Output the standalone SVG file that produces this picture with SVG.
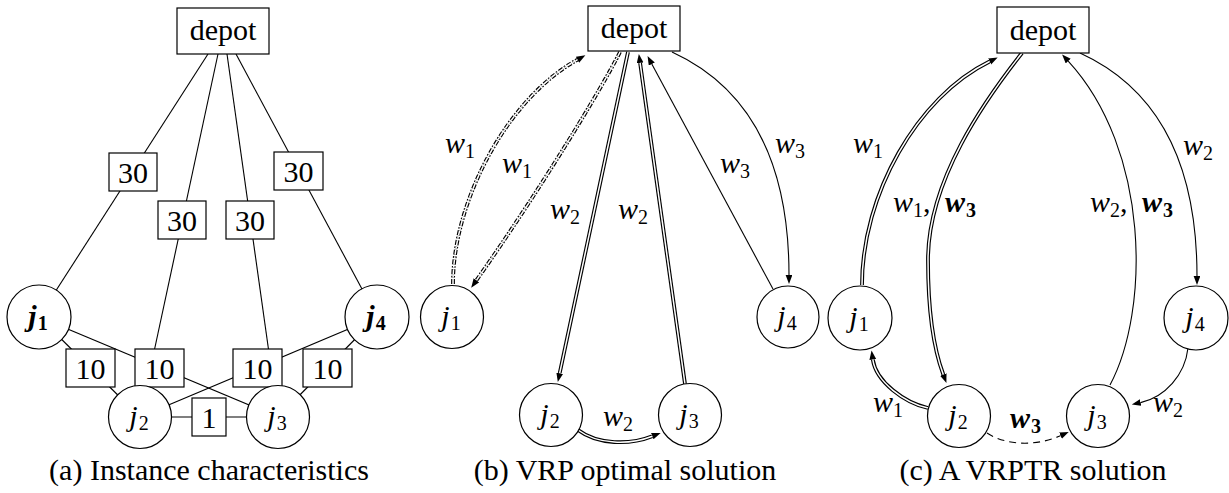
<svg xmlns="http://www.w3.org/2000/svg" width="1229" height="493" viewBox="0 0 1229 493">
<defs>
<marker id="arr" markerUnits="userSpaceOnUse" markerWidth="10" markerHeight="8" refX="0" refY="3.4" orient="auto">
<path d="M0,0 L9,3.4 L0,6.8 Z" fill="#000"/>
</marker>
</defs>
<style>
text{font-family:"Liberation Serif","Times New Roman",serif;font-size:30px;fill:#000}
.m{font-style:italic}
.b{font-weight:bold}
.c{text-anchor:middle}
.sub{font-size:20px;font-style:normal}
.ln{fill:none;stroke:#000;stroke-width:1.1}
.box{fill:#fff;stroke:#000;stroke-width:1.2}
.node{fill:#fff;stroke:#000;stroke-width:1.2}
.dbk{fill:none;stroke:#000;stroke-width:3.8}
.dwh{fill:none;stroke:#fff;stroke-width:1.5}
.dd{stroke-dasharray:5,1.6,1.6,1.6}
.dash{stroke-dasharray:7,5}
</style>
<rect width="1229" height="493" fill="#fff"/>
<g font-family="Liberation Serif, serif">

<!-- ===== Panel (a) ===== -->
<g id="edges-a">
<line class="ln" x1="208" y1="54" x2="39" y2="317"/>
<line class="ln" x1="218" y1="54" x2="140" y2="417"/>
<line class="ln" x1="227" y1="54" x2="278" y2="417"/>
<line class="ln" x1="236" y1="54" x2="377" y2="317"/>
<line class="ln" x1="39" y1="317" x2="140" y2="417"/>
<line class="ln" x1="39" y1="317" x2="278" y2="417"/>
<line class="ln" x1="377" y1="317" x2="140" y2="417"/>
<line class="ln" x1="377" y1="317" x2="278" y2="417"/>
<line class="ln" x1="140" y1="417" x2="278" y2="417"/>
<g id="weights-a">
<rect class="box" x="109" y="153" width="48" height="38"/><text class="c" x="133" y="182.5">30</text>
<rect class="box" x="158" y="201" width="48" height="38"/><text class="c" x="182" y="230.5">30</text>
<rect class="box" x="226" y="201" width="48" height="38"/><text class="c" x="250" y="230.5">30</text>
<rect class="box" x="274" y="152" width="49" height="38"/><text class="c" x="298.5" y="181.5">30</text>
<rect class="box" x="66" y="349" width="49" height="38"/><text class="c" x="90.5" y="378.5">10</text>
<rect class="box" x="135" y="349" width="49" height="38"/><text class="c" x="159.5" y="378.5">10</text>
<rect class="box" x="233" y="349" width="49" height="38"/><text class="c" x="257.5" y="378.5">10</text>
<rect class="box" x="303" y="349" width="49" height="38"/><text class="c" x="327.5" y="378.5">10</text>
<rect class="box" x="192" y="398" width="34" height="38"/><text class="c" x="209" y="427.5">1</text>
</g>
</g>
<g id="a-depot"><rect class="box" x="177" y="8" width="92" height="46"/><text class="c" x="223" y="40">depot</text></g>
<g id="a-j1"><circle class="node" cx="39" cy="317" r="32"/><text class="c m b" x="38" y="326">j<tspan class="sub" dx="1" dy="4">1</tspan></text></g>
<g id="a-j2"><circle class="node" cx="140" cy="417" r="31.5"/><text class="c m" x="139" y="426">j<tspan class="sub" dx="1" dy="4">2</tspan></text></g>
<g id="a-j3"><circle class="node" cx="278" cy="417" r="31.5"/><text class="c m" x="277" y="426">j<tspan class="sub" dx="1" dy="4">3</tspan></text></g>
<g id="a-j4"><circle class="node" cx="377" cy="317" r="32"/><text class="c m b" x="376" y="326">j<tspan class="sub" dx="1" dy="4">4</tspan></text></g>
<text class="c" x="209" y="480">(a) Instance characteristics</text>

<!-- ===== Panel (b) ===== -->
<g id="edges-b">
<path class="dbk dd" d="M453,284 C453,200 508,98 577.5,59.7" marker-end="url(#arr)"/>
<path class="dwh dd" d="M453,284 C453,200 508,98 577.5,59.7"/>
<path class="dbk dd" d="M620,52 C602,88 540,190 476.4,280.3" marker-end="url(#arr)"/>
<path class="dwh dd" d="M620,52 C602,88 540,190 476.4,280.3"/>
<path class="dbk" d="M628,52 L559.7,373.2" marker-end="url(#arr)"/>
<path class="dwh" d="M628,52 L559.7,373.2"/>
<path class="dbk" d="M685,384 L640.1,62.9" marker-end="url(#arr)"/>
<path class="dwh" d="M685,384 L640.1,62.9"/>
<path class="ln" d="M773,289 L651.8,64" marker-end="url(#arr)"/>
<path class="ln" d="M672,52 C755,90 789,170 789,275" marker-end="url(#arr)"/>
<path class="dbk" d="M578,430 C598,445 630,445 652.3,436.2" marker-end="url(#arr)"/>
<path class="dwh" d="M578,430 C598,445 630,445 652.3,436.2"/>
<g id="labels-b">
<text class="m" x="445" y="153">w<tspan class="sub" dy="5">1</tspan></text>
<text class="m" x="502" y="173">w<tspan class="sub" dy="5">1</tspan></text>
<text class="m" x="550" y="219">w<tspan class="sub" dy="5">2</tspan></text>
<text class="m" x="618" y="219">w<tspan class="sub" dy="5">2</tspan></text>
<text class="m" x="720" y="173">w<tspan class="sub" dy="5">3</tspan></text>
<text class="m" x="775" y="153">w<tspan class="sub" dy="5">3</tspan></text>
<text class="m" x="603" y="426">w<tspan class="sub" dy="5">2</tspan></text>
</g>
</g>
<g id="b-depot"><rect class="box" x="588" y="6" width="92" height="45"/><text class="c" x="634" y="38">depot</text></g>
<g id="b-j1"><circle class="node" cx="452" cy="317" r="31.5"/><text class="c m" x="451" y="326">j<tspan class="sub" dx="1" dy="4">1</tspan></text></g>
<g id="b-j2"><circle class="node" cx="551" cy="415" r="31.5"/><text class="c m" x="550" y="424">j<tspan class="sub" dx="1" dy="4">2</tspan></text></g>
<g id="b-j3"><circle class="node" cx="690" cy="415" r="31.5"/><text class="c m" x="689" y="424">j<tspan class="sub" dx="1" dy="4">3</tspan></text></g>
<g id="b-j4"><circle class="node" cx="788" cy="317" r="31"/><text class="c m" x="787" y="326">j<tspan class="sub" dx="1" dy="4">4</tspan></text></g>
<text class="c" x="625" y="480">(b) VRP optimal solution</text>

<!-- ===== Panel (c) ===== -->
<g id="edges-c">
<path class="dbk" d="M862,285 C862,195 917,97 989.6,61.5" marker-end="url(#arr)"/>
<path class="dwh" d="M862,285 C862,195 917,97 989.6,61.5"/>
<path class="dbk" d="M1022,53 C985,100 928,180 928,260 C928,320 936,355 943.3,374.5" marker-end="url(#arr)"/>
<path class="dwh" d="M1022,53 C985,100 928,180 928,260 C928,320 936,355 943.3,374.5"/>
<path class="dbk" d="M928,408 C905,403 876,382 872.8,359.5" marker-end="url(#arr)"/>
<path class="dwh" d="M928,408 C905,403 876,382 872.8,359.5"/>
<path class="ln" d="M1110,385 C1150,310 1150,150 1068.2,61.1" marker-end="url(#arr)"/>
<path class="ln" d="M1080,53 C1163,91 1197,171 1197,276" marker-end="url(#arr)"/>
<path class="ln" d="M1188,348 C1185,375 1165,397 1140.6,402.6" marker-end="url(#arr)"/>
<path class="ln dash" d="M987,433 C1005,445 1035,447 1060.5,435.7" marker-end="url(#arr)"/>
<g id="labels-c">
<text class="m" x="853" y="153">w<tspan class="sub" dy="5">1</tspan></text>
<text class="m" x="893" y="212">w<tspan class="sub" dy="5">1</tspan><tspan dy="-5" font-style="normal">,</tspan></text>
<text class="m b" x="945" y="212" font-size="32">w<tspan class="sub b" dx="1" dy="5" font-size="22">3</tspan></text>
<text class="m" x="1090" y="212">w<tspan class="sub" dy="5">2</tspan><tspan dy="-5" font-style="normal">,</tspan></text>
<text class="m b" x="1142" y="212" font-size="32">w<tspan class="sub b" dx="1" dy="5" font-size="22">3</tspan></text>
<text class="m" x="1183" y="155">w<tspan class="sub" dy="5">2</tspan></text>
<text class="m" x="873" y="412">w<tspan class="sub" dy="5">1</tspan></text>
<text class="m b" x="1010" y="428" font-size="32">w<tspan class="sub b" dx="1" dy="5" font-size="22">3</tspan></text>
<text class="m" x="1153" y="412">w<tspan class="sub" dy="5">2</tspan></text>
</g>
</g>
<g id="c-depot"><rect class="box" x="997" y="7" width="92" height="46"/><text class="c" x="1043" y="39.5">depot</text></g>
<g id="c-j1"><circle class="node" cx="860" cy="318" r="32"/><text class="c m" x="859" y="327">j<tspan class="sub" dx="1" dy="4">1</tspan></text></g>
<g id="c-j2"><circle class="node" cx="959" cy="416" r="31.5"/><text class="c m" x="958" y="425">j<tspan class="sub" dx="1" dy="4">2</tspan></text></g>
<g id="c-j3"><circle class="node" cx="1098" cy="416" r="31.5"/><text class="c m" x="1097" y="425">j<tspan class="sub" dx="1" dy="4">3</tspan></text></g>
<g id="c-j4"><circle class="node" cx="1196" cy="318" r="32"/><text class="c m" x="1195" y="327">j<tspan class="sub" dx="1" dy="4">4</tspan></text></g>
<text class="c" x="1033" y="480">(c) A VRPTR solution</text>
</g>
</svg>
